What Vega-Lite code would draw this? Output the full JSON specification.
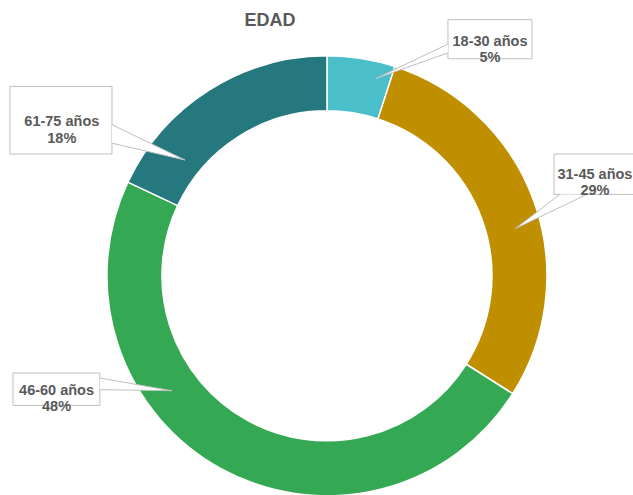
{
  "$schema": "https://vega.github.io/schema/vega-lite/v6.json",
  "width": 633,
  "height": 495,
  "padding": 0,
  "autosize": {"type": "fit", "contains": "padding"},
  "background": "white",
  "config": {"view": {"stroke": null}},
  "datasets": {
    "seg": [
      {"edad": "18-30 años", "pct": 5, "orden": 1},
      {"edad": "31-45 años", "pct": 29, "orden": 2},
      {"edad": "46-60 años", "pct": 48, "orden": 3},
      {"edad": "61-75 años", "pct": 18, "orden": 4}
    ],
    "boxes": [
      {"edad": "18-30 años", "label": "18-30 años\n5%", "x1": 0.55, "x2": 0.932, "y1": 1.186, "y2": 1.005, "tx": 0.741, "ty": 1.084},
      {"edad": "31-45 años", "label": "31-45 años\n29%", "x1": 1.032, "x2": 1.45, "y1": 0.564, "y2": 0.377, "tx": 1.218, "ty": 0.468},
      {"edad": "61-75 años", "label": "61-75 años\n18%", "x1": -1.441, "x2": -0.977, "y1": 0.877, "y2": 0.564, "tx": -1.205, "ty": 0.711},
      {"edad": "46-60 años", "label": "46-60 años\n48%", "x1": -1.427, "x2": -1.032, "y1": -0.45, "y2": -0.6, "tx": -1.229, "ty": -0.532}
    ],
    "wedges": [
      {"edad": "18-30 años", "s": 1, "x": 0.55, "y": 1.073},
      {"edad": "18-30 años", "s": 2, "x": 0.223, "y": 0.914},
      {"edad": "18-30 años", "s": 3, "x": 0.55, "y": 1.032},
      {"edad": "31-45 años", "s": 1, "x": 1.059, "y": 0.377},
      {"edad": "31-45 años", "s": 2, "x": 0.855, "y": 0.218},
      {"edad": "31-45 años", "s": 3, "x": 1.182, "y": 0.377},
      {"edad": "61-75 años", "s": 1, "x": -0.977, "y": 0.7},
      {"edad": "61-75 años", "s": 2, "x": -0.645, "y": 0.536},
      {"edad": "61-75 años", "s": 3, "x": -0.977, "y": 0.614},
      {"edad": "46-60 años", "s": 1, "x": -1.032, "y": -0.473},
      {"edad": "46-60 años", "s": 2, "x": -0.705, "y": -0.532},
      {"edad": "46-60 años", "s": 3, "x": -1.032, "y": -0.527}
    ]
  },
  "layer": [
    {
      "data": {"name": "seg"},
      "mark": {"type": "arc", "outerRadius": 220, "innerRadius": 165, "stroke": "white", "strokeWidth": 1.5},
      "encoding": {
        "x": {"datum": 0, "type": "quantitative", "scale": {"domain": [-1.486, 1.391], "nice": false, "zero": false}, "axis": null},
        "y": {"datum": 0, "type": "quantitative", "scale": {"domain": [-0.973, 1.277], "nice": false, "zero": false}, "axis": null},
        "theta": {"field": "pct", "type": "quantitative", "stack": true},
        "order": {"field": "orden", "type": "quantitative"},
        "color": {
          "field": "edad", "type": "nominal", "legend": null,
          "scale": {"domain": ["18-30 años", "31-45 años", "46-60 años", "61-75 años"], "range": ["#4BBFC9", "#BF8F00", "#34A853", "#24787E"]}
        }
      }
    },
    {
      "data": {"name": "boxes"},
      "mark": {"type": "rect", "fill": "white", "stroke": "#BFBFBF", "strokeWidth": 1, "clip": true},
      "encoding": {
        "x": {"field": "x1", "type": "quantitative", "scale": {"domain": [-1.486, 1.391], "nice": false, "zero": false}, "axis": null},
        "x2": {"field": "x2"},
        "y": {"field": "y1", "type": "quantitative", "scale": {"domain": [-0.973, 1.277], "nice": false, "zero": false}, "axis": null},
        "y2": {"field": "y2"}
      }
    },
    {
      "data": {"name": "wedges"},
      "mark": {"type": "line", "stroke": "#BFBFBF", "fill": "white", "strokeWidth": 1, "interpolate": "linear"},
      "encoding": {
        "x": {"field": "x", "type": "quantitative", "scale": {"domain": [-1.486, 1.391], "nice": false, "zero": false}, "axis": null},
        "y": {"field": "y", "type": "quantitative", "scale": {"domain": [-0.973, 1.277], "nice": false, "zero": false}, "axis": null},
        "detail": {"field": "edad", "type": "nominal"},
        "order": {"field": "s", "type": "quantitative"}
      }
    },
    {
      "data": {"name": "boxes"},
      "mark": {"type": "text", "font": "Liberation Sans", "fontWeight": "bold", "fontSize": 14.5, "color": "#595959", "lineBreak": "\n", "lineHeight": 16.5, "align": "center", "baseline": "middle", "clip": true},
      "encoding": {
        "x": {"field": "tx", "type": "quantitative", "scale": {"domain": [-1.486, 1.391], "nice": false, "zero": false}, "axis": null},
        "y": {"field": "ty", "type": "quantitative", "scale": {"domain": [-0.973, 1.277], "nice": false, "zero": false}, "axis": null},
        "text": {"field": "label", "type": "nominal"}
      }
    },
    {
      "data": {"values": [{"t": "EDAD"}]},
      "mark": {"type": "text", "font": "Liberation Sans", "fontWeight": "bold", "fontSize": 18, "color": "#595959", "align": "center", "baseline": "middle"},
      "encoding": {
        "x": {"datum": -0.259, "type": "quantitative", "scale": {"domain": [-1.486, 1.391], "nice": false, "zero": false}, "axis": null},
        "y": {"datum": 1.18, "type": "quantitative", "scale": {"domain": [-0.973, 1.277], "nice": false, "zero": false}, "axis": null},
        "text": {"field": "t", "type": "nominal"}
      }
    }
  ]
}
